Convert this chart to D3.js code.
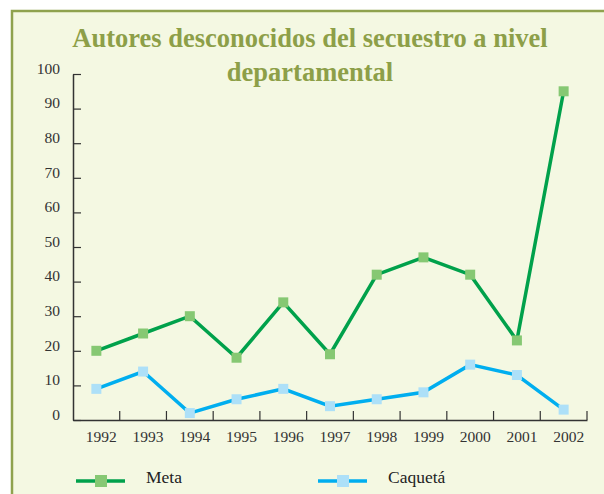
<!DOCTYPE html>
<html><head><meta charset="utf-8">
<script src="https://cdn.jsdelivr.net/npm/d3@7"></script>
<style>body{margin:0;background:#fff;}svg{display:block;}</style>
</head><body>
<script>
const years = ["1992","1993","1994","1995","1996","1997","1998","1999","2000","2001","2002"];
const meta = [20,25,30,18,34,19,42,47,42,23,95];
const caqueta = [9,14,2,6,9,4,6,8,16,13,3];
const yTicks = [0,10,20,30,40,50,60,70,80,90,100];
const seriesNames = ["Meta","Caquetá"];
const titleLines = ["Autores desconocidos del secuestro a nivel","departamental"];

const W = 604, H = 494;
const svg = d3.select("body").append("svg").attr("width", W).attr("height", H);
const font = "'Liberation Serif','Times New Roman',serif";

// frame
svg.append("rect").attr("x", 12).attr("y", 11).attr("width", 620).attr("height", 520)
  .attr("fill", "#F4F8E2").attr("stroke", "#8FA24E").attr("stroke-width", 2.5);

// title
svg.append("g").selectAll("text").data(titleLines).join("text")
  .attr("x", 310).attr("y", (d,i) => 47 + i*34)
  .attr("text-anchor", "middle").attr("font-family", font).attr("font-weight", "bold")
  .attr("font-size", 26.5).attr("fill", "#8D9F48").text(d => d);

const x = d3.scaleBand().domain(years).range([73, 587]);
const y = d3.scaleLinear().domain([0, 100]).range([420, 74]);

// y axis
const ya = svg.append("g").attr("transform", "translate(73,0)")
  .call(d3.axisLeft(y).tickValues(yTicks).tickSizeInner(-8).tickSizeOuter(0).tickFormat(d3.format("d")));
ya.select(".domain").attr("stroke", "#333").attr("stroke-width", 1.5);
ya.selectAll(".tick line").attr("stroke", "#333").attr("stroke-width", 1.2);
ya.selectAll(".tick text").attr("x", -13).attr("dy", "-0.05em")
  .attr("font-family", font).attr("font-size", 15.5).attr("fill", "#333");

// x axis
const xa = svg.append("g").attr("transform", "translate(0,420)")
  .call(d3.axisBottom(x).tickSize(0).tickSizeOuter(0));
xa.select(".domain").attr("stroke", "#333").attr("stroke-width", 1.5);
xa.selectAll(".tick text").attr("dx", 5).attr("y", 11)
  .attr("font-family", font).attr("font-size", 15.5).attr("fill", "#333");
// boundary ticks
const bounds = years.map(d => x(d)).concat([x(years[years.length-1]) + x.bandwidth()]);
svg.append("g").selectAll("line").data(bounds.slice(1)).join("line")
  .attr("x1", d => d).attr("x2", d => d).attr("y1", 420).attr("y2", 411)
  .attr("stroke", "#333").attr("stroke-width", 1.2);

const series = [
  {name: seriesNames[0], values: meta, line: "#00A14B", mark: "#86C873"},
  {name: seriesNames[1], values: caqueta, line: "#00AEEF", mark: "#ADE0F8"}
];
const cx = d => x(d) + x.bandwidth()/2;
const line = d3.line().x((d,i) => cx(years[i])).y(d => y(d));

series.forEach(s => {
  svg.append("path").datum(s.values).attr("d", line).attr("fill", "none")
    .attr("stroke", s.line).attr("stroke-width", 3.5).attr("stroke-linejoin", "miter");
  svg.append("g").selectAll("rect").data(s.values).join("rect")
    .attr("x", (d,i) => cx(years[i]) - 5).attr("y", d => y(d) - 5)
    .attr("width", 10).attr("height", 10).attr("fill", s.mark);
});

// legend
const lg = svg.append("g").selectAll("g").data(series).join("g")
  .attr("transform", (d,i) => `translate(${76 + i*242},481)`);
lg.append("line").attr("x1", 0).attr("x2", 49).attr("y1", 0).attr("y2", 0)
  .attr("stroke", d => d.line).attr("stroke-width", 3.5);
lg.append("rect").attr("x", 19).attr("y", -6).attr("width", 12).attr("height", 12).attr("fill", d => d.mark);
lg.append("text").attr("x", 70).attr("y", -3).attr("dy", "0.3em")
  .attr("font-family", font).attr("font-size", 17.5).attr("fill", "#222").text(d => d.name);
</script>
</body></html>
